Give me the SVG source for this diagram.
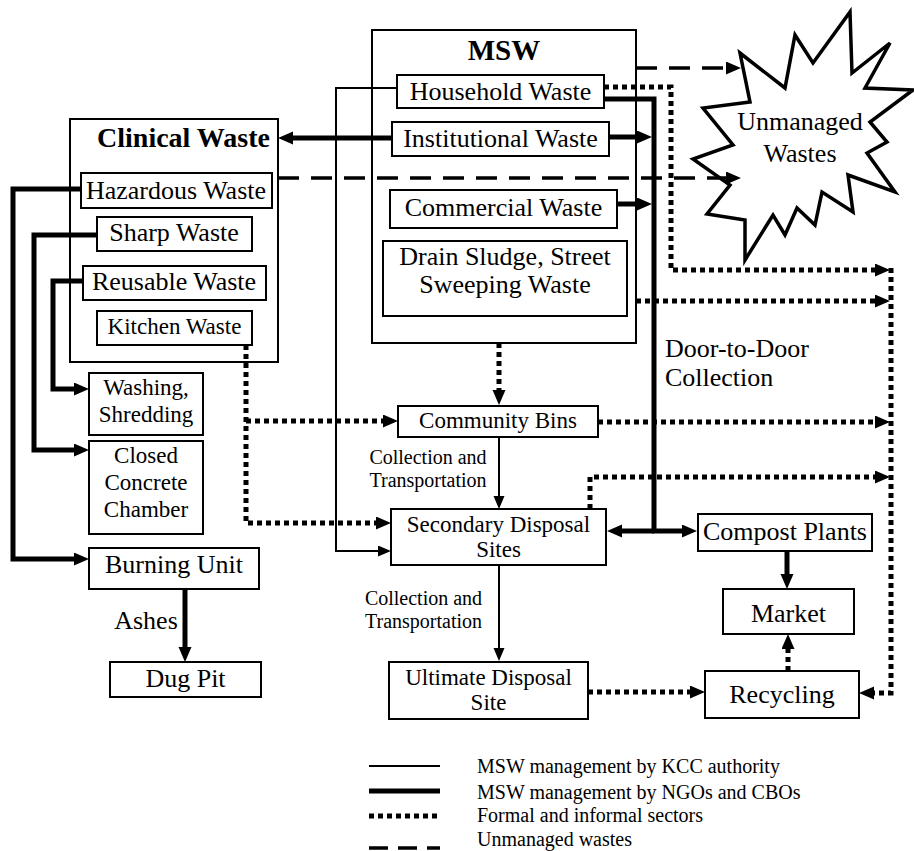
<svg xmlns="http://www.w3.org/2000/svg" width="914" height="851" viewBox="0 0 914 851">
<style>
.box{fill:#fff;stroke:#000;stroke-width:2}
.cont{fill:none;stroke:#000;stroke-width:2}
.thin{fill:none;stroke:#000;stroke-width:2}
.thick{fill:none;stroke:#000;stroke-width:5}
.dot{fill:none;stroke:#000;stroke-width:5;stroke-dasharray:5 4}
.dash{fill:none;stroke:#000;stroke-width:3.5;stroke-dasharray:21 12}
text{font-family:"Liberation Serif","Times New Roman",serif;fill:#000}
.l{font-size:26px;text-anchor:middle}
.m{font-size:23px;text-anchor:middle}
.s{font-size:20px;text-anchor:middle}
.b{font-weight:bold;text-anchor:middle}
.lg{font-size:20px}
</style>
<defs>
<marker id="ah" markerUnits="userSpaceOnUse" markerWidth="16" markerHeight="14" refX="7" refY="6.5" orient="auto"><path d="M0,0 L15,6.5 L0,13 z" fill="#000"/></marker>
<marker id="as" markerUnits="userSpaceOnUse" markerWidth="14" markerHeight="12" refX="7" refY="5.5" orient="auto"><path d="M0,0 L13,5.5 L0,11 z" fill="#000"/></marker>
</defs>
<rect width="914" height="851" fill="#fff"/>

<g id="msw">
<rect class="cont" x="372" y="30" width="264" height="313"/>
<text class="b" x="504" y="60" font-size="29">MSW</text>
</g>
<g id="clinical-waste">
<rect class="cont" x="70" y="119" width="208" height="243"/>
<text class="b" x="183.5" y="146.5" font-size="28">Clinical Waste</text>
</g>
<g id="unmanaged-wastes">
<polygon points="740,53 785,88 795,35 813,63 850,12 852,73 890,43 865,88 913,90 870,122 887,142 867,153 895,192 848,175 853,212 822,192 815,225 797,208 785,235 773,215 745,260 745,220 707,214 730,185 693,159 733,145 703,108 750,102" fill="#fff" stroke="#000" stroke-width="3.5" stroke-linejoin="miter"/>
<text class="l" x="800" y="130">Unmanaged</text>
<text class="l" x="800" y="161.5">Wastes</text>
</g>

<g id="connectors">
<!-- thin (KCC) -->
<path class="thin" d="M397,88 H336 V551 H385" marker-end="url(#as)"/>
<path class="thin" d="M499,437 V503" marker-end="url(#as)"/>
<path class="thin" d="M499,565 V655" marker-end="url(#as)"/>
<!-- thick (NGOs/CBOs) -->
<path class="thick" d="M392,138 H286" marker-end="url(#ah)"/>
<path class="thick" d="M604,99 H654 V531"/>
<path class="thick" d="M609,137 H644" marker-end="url(#ah)"/>
<path class="thick" d="M617,204 H644" marker-end="url(#ah)"/>
<path class="thick" d="M654,531 H615" marker-end="url(#ah)"/>
<path class="thick" d="M652,531 H689" marker-end="url(#ah)"/>
<path class="thick" d="M787,551 V581" marker-end="url(#ah)"/>
<path class="thick" d="M81,189 H13 V559 H81" marker-end="url(#ah)"/>
<path class="thick" d="M97,235 H34 V450 H81" marker-end="url(#ah)"/>
<path class="thick" d="M83,281 H53 V389 H81" marker-end="url(#ah)"/>
<path class="thick" d="M185,589 V654" marker-end="url(#ah)"/>
<!-- dotted (formal and informal sectors) -->
<path class="dot" d="M499,343 V397" marker-end="url(#ah)"/>
<path class="dot" d="M246,345 V523 H383" marker-end="url(#ah)"/>
<path class="dot" d="M246,421 H390" marker-end="url(#ah)"/>
<path class="dot" d="M604,87 H671 V270 H882" marker-end="url(#ah)"/>
<path class="dot" d="M636,301 H882" marker-end="url(#ah)"/>
<path class="dot" d="M598,422 H882" marker-end="url(#ah)"/>
<path class="dot" d="M590,509 V477 H882" marker-end="url(#ah)"/>
<path class="dot" d="M891,268 V693 H867" marker-end="url(#ah)"/>
<path class="dot" d="M588,692 H697" marker-end="url(#ah)"/>
<path class="dot" d="M788,671 V642" marker-end="url(#ah)"/>
<!-- dashed (unmanaged) -->
<path class="dash" d="M636,68 H733" marker-end="url(#ah)"/>
<path class="dash" d="M278,178 H733" marker-end="url(#ah)"/>
</g>

<g id="household-waste"><rect class="box" x="397" y="75" width="207" height="33"/><text class="l" x="500.5" y="99.5">Household Waste</text></g>
<g id="institutional-waste"><rect class="box" x="392" y="122" width="217" height="34"/><text class="l" x="500.5" y="146.5">Institutional Waste</text></g>
<g id="commercial-waste"><rect class="box" x="390" y="190" width="227" height="38"/><text class="l" x="503.5" y="215.5">Commercial Waste</text></g>
<g id="drain-sludge"><rect class="box" x="383" y="241" width="244" height="75"/><text class="l" x="505" y="265">Drain Sludge, Street</text><text class="l" x="505" y="293">Sweeping Waste</text></g>

<g id="hazardous-waste"><rect class="box" x="81" y="173" width="191" height="35"/><text class="l" x="176" y="199">Hazardous Waste</text></g>
<g id="sharp-waste"><rect class="box" x="97" y="217" width="155" height="34"/><text class="l" x="174" y="240.5">Sharp Waste</text></g>
<g id="reusable-waste"><rect class="box" x="83" y="266" width="183" height="34"/><text class="l" x="174" y="290">Reusable Waste</text></g>
<g id="kitchen-waste"><rect class="box" x="97" y="311" width="155" height="34"/><text class="m" x="174.5" y="334">Kitchen Waste</text></g>

<g id="washing-shredding"><rect class="box" x="89" y="373" width="114" height="62"/><text class="m" x="146" y="395">Washing,</text><text class="m" x="146" y="421.5">Shredding</text></g>
<g id="closed-concrete-chamber"><rect class="box" x="89" y="441" width="114" height="93"/><text class="m" x="146" y="463">Closed</text><text class="m" x="146" y="490">Concrete</text><text class="m" x="146" y="516.5">Chamber</text></g>
<g id="burning-unit"><rect class="box" x="89" y="548" width="170" height="41"/><text class="l" x="174" y="573">Burning Unit</text></g>
<g id="ashes-label"><text class="l" x="146" y="629">Ashes</text></g>
<g id="dug-pit"><rect class="box" x="110" y="662" width="151" height="35"/><text class="l" x="185.5" y="686.5">Dug Pit</text></g>

<g id="community-bins"><rect class="box" x="398" y="406" width="200" height="31"/><text class="m" x="498" y="427.5">Community Bins</text></g>
<g id="collection-label-1"><text class="s" x="428" y="464">Collection and</text><text class="s" x="428" y="487">Transportation</text></g>
<g id="secondary-disposal"><rect class="box" x="391" y="509" width="215" height="56"/><text class="m" x="498.5" y="531.5">Secondary Disposal</text><text class="m" x="498.5" y="556.5">Sites</text></g>
<g id="collection-label-2"><text class="s" x="423.5" y="605">Collection and</text><text class="s" x="423.5" y="628">Transportation</text></g>
<g id="ultimate-disposal"><rect class="box" x="389" y="662" width="199" height="57"/><text class="m" x="488.5" y="685">Ultimate Disposal</text><text class="m" x="488.5" y="710">Site</text></g>

<g id="door-to-door-label"><text font-size="26" x="665" y="356.5">Door-to-Door</text><text font-size="26" x="665" y="385.5">Collection</text></g>
<g id="compost-plants"><rect class="box" x="698" y="514" width="174" height="37"/><text class="l" x="785" y="540">Compost Plants</text></g>
<g id="market"><rect class="box" x="723" y="589" width="131" height="45"/><text class="l" x="788.5" y="621.5">Market</text></g>
<g id="recycling"><rect class="box" x="705" y="671" width="154" height="47"/><text class="l" x="782" y="703">Recycling</text></g>

<g id="legend">
<line class="thin" x1="369" y1="766" x2="440" y2="766"/>
<line class="thick" x1="369" y1="791" x2="440" y2="791"/>
<line class="dot" x1="369" y1="816" x2="440" y2="816"/>
<line x1="369" y1="848" x2="440" y2="848" stroke="#000" stroke-width="3.5" stroke-dasharray="19 10"/>
<text class="lg" x="477" y="773">MSW management by KCC authority</text>
<text class="lg" x="477" y="799">MSW management by NGOs and CBOs</text>
<text class="lg" x="477" y="822">Formal and informal sectors</text>
<text class="lg" x="477" y="846">Unmanaged wastes</text>
</g>
</svg>
